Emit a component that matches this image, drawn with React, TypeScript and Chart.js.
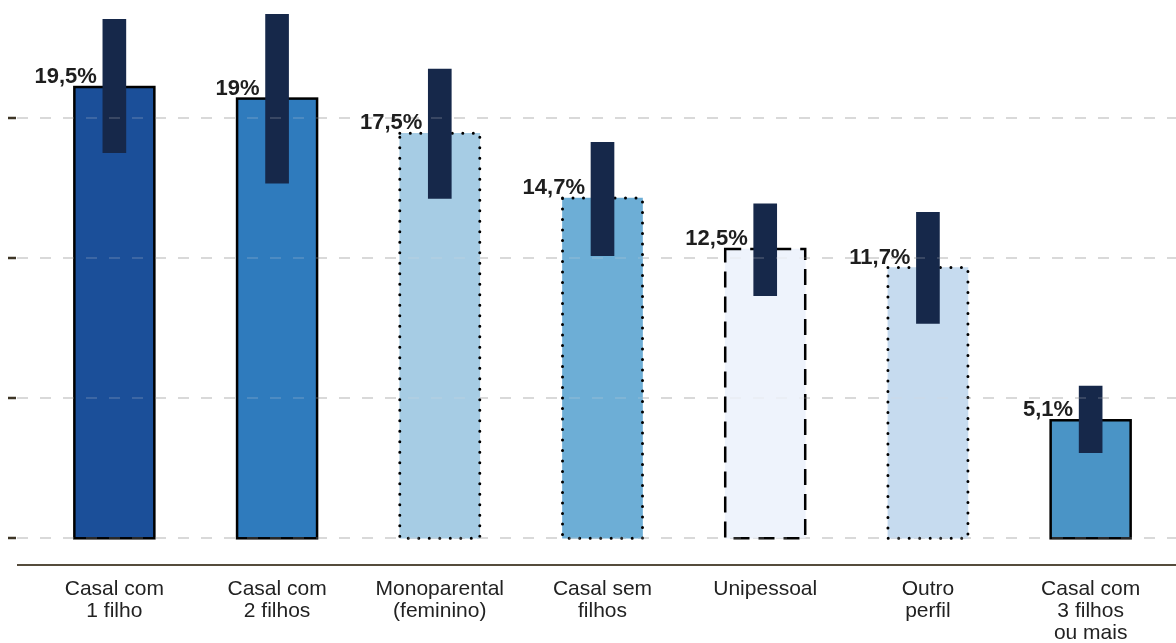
import React, { useEffect, useRef } from "react";
import { Chart, registerables } from "chart.js";

Chart.register(...registerables);

const categories: string[][] = [
  ["Casal com", "1 filho"],
  ["Casal com", "2 filhos"],
  ["Monoparental", "(feminino)"],
  ["Casal sem", "filhos"],
  ["Unipessoal"],
  ["Outro", "perfil"],
  ["Casal com", "3 filhos", "ou mais"],
];
const values: number[] = [19.5, 19, 17.5, 14.7, 12.5, 11.7, 5.1];
const valueLabels: string[] = ["19,5%", "19%", "17,5%", "14,7%", "12,5%", "11,7%", "5,1%"];
const rangeLow: number[] = [16.66, 15.34, 14.69, 12.21, 10.48, 9.29, 3.7];
const rangeHigh: number[] = [22.43, 22.64, 20.28, 17.11, 14.45, 14.09, 6.58];
const gridValues: number[] = [0, 6.06, 12.12, 18.18];
const fillColors: string[] = ["#1b4f99", "#2f7bbd", "#a6cce4", "#6daed6", "#eef3fc", "#c6dbef", "#4a94c6"];
const borderStyles: string[] = ["solid", "solid", "dotted", "dotted", "dashed", "dotted", "solid"];
const rangeColor = "#16284a";

const customPlugin = {
  id: "customDraw",
  beforeDatasetsDraw(chart: any) {
    const ctx = chart.ctx;
    const ys = chart.scales.y;
    ctx.save();
    gridValues.forEach((v) => {
      const py = Math.round(ys.getPixelForValue(v));
      ctx.strokeStyle = "#d9d9d9";
      ctx.lineWidth = 2;
      ctx.setLineDash([11, 12]);
      ctx.beginPath();
      ctx.moveTo(17, py);
      ctx.lineTo(chart.width, py);
      ctx.stroke();
      ctx.setLineDash([]);
      ctx.strokeStyle = "#3d3526";
      ctx.lineWidth = 2.5;
      ctx.beginPath();
      ctx.moveTo(8, py);
      ctx.lineTo(16, py);
      ctx.stroke();
    });
    const ab = chart.chartArea.bottom;
    ctx.strokeStyle = "#554c3c";
    ctx.lineWidth = 2;
    ctx.beginPath();
    ctx.moveTo(17, ab);
    ctx.lineTo(chart.width, ab);
    ctx.stroke();
    ctx.restore();
  },
  afterDatasetDraw(chart: any, args: any) {
    if (args.index !== 1) return;
    const ctx = chart.ctx;
    ctx.save();
    args.meta.data.forEach((el: any, i: number) => {
      const p = el.getProps(["x", "y", "base", "width"], true);
      const left = p.x - p.width / 2;
      const style = borderStyles[i];
      ctx.strokeStyle = "#000";
      if (style === "dotted") {
        ctx.lineWidth = 3;
        ctx.lineCap = "round";
        ctx.setLineDash([0, 10.5]);
      } else if (style === "dashed") {
        ctx.lineWidth = 2.5;
        ctx.lineCap = "butt";
        ctx.setLineDash([16, 9]);
      } else {
        ctx.lineWidth = 2.5;
        ctx.lineCap = "butt";
        ctx.setLineDash([]);
      }
      ctx.strokeRect(left, p.y, p.width, p.base - p.y);
    });
    ctx.restore();
  },
  afterDatasetsDraw(chart: any) {
    const ctx = chart.ctx;
    const ys = chart.scales.y;
    ctx.save();
    gridValues.forEach((v) => {
      const py = Math.round(ys.getPixelForValue(v));
      ctx.strokeStyle = "rgba(217,217,217,0.18)";
      ctx.lineWidth = 2;
      ctx.setLineDash([11, 12]);
      ctx.beginPath();
      ctx.moveTo(17, py);
      ctx.lineTo(chart.width, py);
      ctx.stroke();
    });
    ctx.setLineDash([]);
    const meta = chart.getDatasetMeta(1);
    const rmeta = chart.getDatasetMeta(0);
    ctx.font = 'bold 22px "Liberation Sans", Arial, sans-serif';
    ctx.fillStyle = "#1e1e1e";
    ctx.textAlign = "right";
    ctx.textBaseline = "alphabetic";
    meta.data.forEach((el: any, i: number) => {
      const p = el.getProps(["x", "y"], true);
      const r = rmeta.data[i].getProps(["x", "width"], true);
      ctx.fillText(valueLabels[i], r.x - r.width / 2 - 6, p.y - 4);
    });
    ctx.restore();
  },
};

export default function App() {
  const ref = useRef<HTMLCanvasElement | null>(null);
  useEffect(() => {
    if (!ref.current) return;
    const chart = new Chart(ref.current, {
      type: "bar",
      data: {
        labels: categories,
        datasets: [
          {
            label: "Intervalo",
            data: rangeLow.map((lo, i) => [lo, rangeHigh[i]]),
            backgroundColor: rangeColor,
            borderWidth: 0,
            barThickness: 23,
            grouped: false,
            order: 0,
          } as any,
          {
            label: "Valor",
            data: values,
            backgroundColor: fillColors,
            borderWidth: 0,
            barThickness: 80,
            grouped: false,
            order: 1,
          } as any,
        ],
      },
      options: {
        responsive: false,
        animation: false,
        layout: { padding: { left: 33, right: 4, top: 0, bottom: 0 } },
        plugins: {
          legend: { display: false },
          tooltip: { enabled: false },
        },
        scales: {
          x: {
            grid: { display: false, drawTicks: false },
            border: { display: false },
            ticks: {
              autoSkip: false,
              maxRotation: 0,
              minRotation: 0,
              padding: 13,
              color: "#222",
              font: { family: '"Liberation Sans", Arial, sans-serif', size: 21, lineHeight: 1.05 },
            },
            afterFit: (scale: any) => {
              scale.height = 78;
            },
          },
          y: {
            display: false,
            min: -1.154,
            max: 23.26,
          },
        },
      },
      plugins: [customPlugin],
    });
    return () => chart.destroy();
  }, []);
  return (
    <div style={{ position: "absolute", left: 0, top: 0, width: 1176, height: 643 }}>
      <canvas ref={ref} width={1176} height={643} style={{ width: 1176, height: 643 }} />
    </div>
  );
}
